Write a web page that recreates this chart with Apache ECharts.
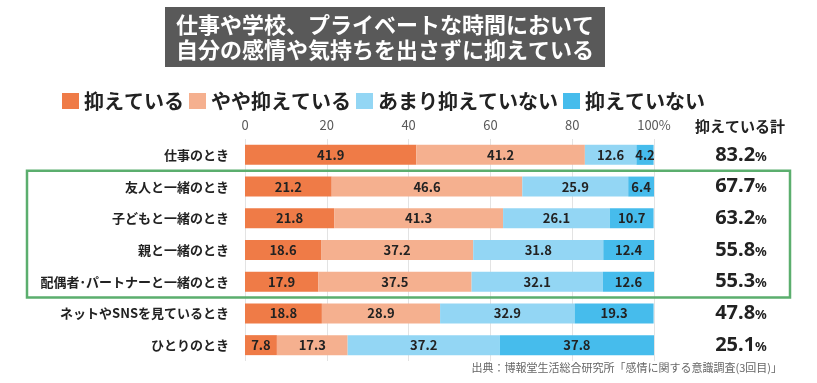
<!DOCTYPE html>
<html><head><meta charset="utf-8">
<script src="https://cdn.jsdelivr.net/npm/echarts@6/dist/echarts.min.js"></script>
<style>html,body{margin:0;padding:0;background:#fff}#c{width:817px;height:383px}</style>
</head><body><div id="c"></div>
<script>
const categories = ['仕事のとき','友人と一緒のとき','子どもと一緒のとき','親と一緒のとき','配偶者･パートナーと一緒のとき','ネットやSNSを見ているとき','ひとりのとき'];
const seriesNames = ['抑えている','やや抑えている','あまり抑えていない','抑えていない'];
const s1 = [41.9,21.2,21.8,18.6,17.9,18.8,7.8];
const s2 = [41.2,46.6,41.3,37.2,37.5,28.9,17.3];
const s3 = [12.6,25.9,26.1,31.8,32.1,32.9,37.2];
const s4 = [4.2,6.4,10.7,12.4,12.6,19.3,37.8];
const totals = ['83.2','67.7','63.2','55.8','55.3','47.8','25.1'];
const xTickLabels = {0:'0',20:'20',40:'40',60:'60',80:'80',100:'100%'};
const colors = ['#EF7B47','#F5B08F','#93D6F4','#46BCEC'];
const FONT = '"Noto Sans CJK JP", "Noto Sans", sans-serif';

const chart = echarts.init(document.getElementById('c'));
const mk = (name, data, i) => ({
  name, type:'bar', stack:'t', data, barWidth:20, yAxisIndex:0,
  itemStyle:{color:colors[i]},
  label:{show:true, position:'inside', color:'#222', fontSize:13, fontWeight:'bold', fontFamily:FONT, formatter:p=>p.value.toFixed(1)}
});
chart.setOption({
  animation:false,
  textStyle:{fontFamily:FONT},
  title:{
    text:'仕事や学校、プライベートな時間において\n自分の感情や気持ちを出さずに抑えている',
    left:165, top:7, padding:[5,11], backgroundColor:'#595959',
    textStyle:{color:'#fff', fontSize:22, fontWeight:'bold', lineHeight:25, fontFamily:FONT}
  },
  legend:{
    data:seriesNames, left:57, top:86, itemWidth:17, itemHeight:16, itemGap:5, icon:'rect',
    textStyle:{fontSize:20, fontWeight:'bold', color:'#222', fontFamily:FONT}
  },
  grid:{left:245, right:163, top:139, bottom:22, containLabel:false},
  xAxis:{
    type:'value', position:'top', min:0, max:100, interval:20,
    axisLine:{show:false}, axisTick:{show:false},
    axisLabel:{color:'#595959', fontSize:13, margin:7, fontFamily:FONT, formatter:v=>xTickLabels[v]},
    splitLine:{lineStyle:{color:'#e3e3e3', width:1}}
  },
  yAxis:[{
    type:'category', data:categories, inverse:true,
    axisLine:{show:false}, axisTick:{show:false},
    axisLabel:{color:'#222', fontSize:13, fontWeight:'bold', margin:16, fontFamily:FONT}
  },{
    type:'category', data:totals, inverse:true, position:'right',
    axisLine:{show:false}, axisTick:{show:false},
    axisLabel:{margin:87, align:'center', formatter:v=>'{n|'+v+'}{p|%}',
      rich:{n:{fontSize:20, fontWeight:'bold', color:'#222', fontFamily:'"Noto Sans", sans-serif'},
            p:{fontSize:13, fontWeight:'bold', color:'#222', fontFamily:'"Noto Sans", sans-serif', padding:[4,0,0,0]}}}
  }],
  series:[mk(seriesNames[0],s1,0),mk(seriesNames[1],s2,1),mk(seriesNames[2],s3,2),mk(seriesNames[3],s4,3)]
});
const yTop = (chart.convertToPixel({yAxisIndex:0}, categories[0]) + chart.convertToPixel({yAxisIndex:0}, categories[1]))/2;
const yBot = (chart.convertToPixel({yAxisIndex:0}, categories[4]) + chart.convertToPixel({yAxisIndex:0}, categories[5]))/2;
chart.setOption({graphic:[
  {type:'rect', shape:{x:27, y:yTop, width:763, height:yBot-yTop}, style:{fill:'none', stroke:'#5BAE6E', lineWidth:2.5}, z:10},
  {type:'text', left:695, top:119, style:{text:'抑えている計', fill:'#222', font:'bold 15px '+FONT}},
  {type:'text', right:35, top:362, style:{text:'出典：博報堂生活総合研究所「感情に関する意識調査(3回目)」', fill:'#666', font:'11px '+FONT}}
]});
</script></body></html>
